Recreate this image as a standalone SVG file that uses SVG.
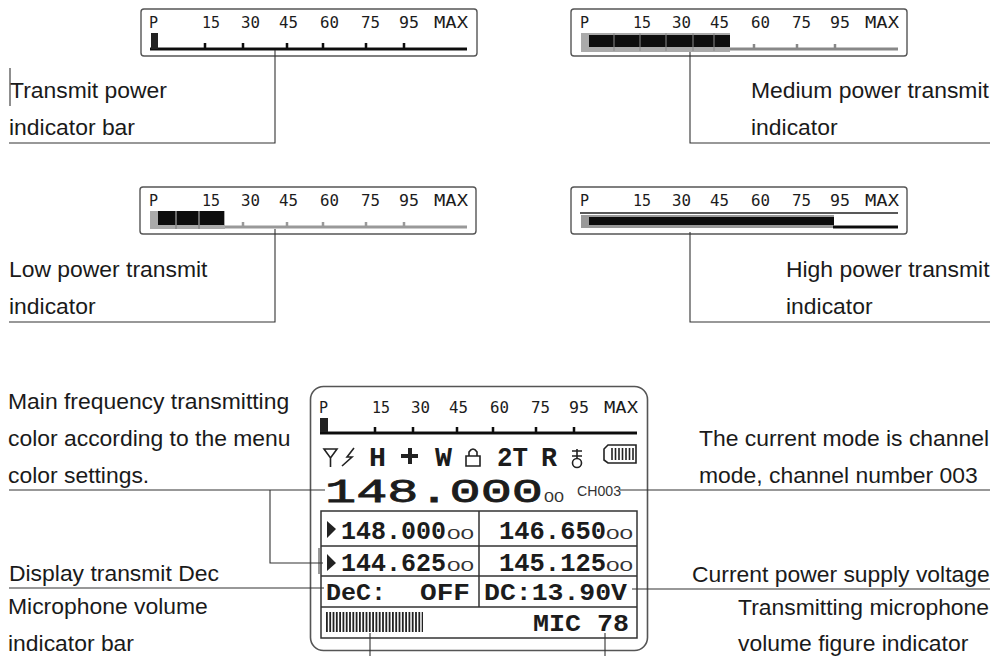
<svg xmlns="http://www.w3.org/2000/svg" xmlns:xlink="http://www.w3.org/1999/xlink" width="994" height="656" viewBox="0 0 994 656">
<style>
.lb{font-family:"Liberation Sans",Arial,sans-serif;font-size:22.9px;fill:#1a1a1a}
.sc{font-family:"DejaVu Sans Mono","Liberation Mono",monospace;font-size:15px;fill:#1c1c1c}
.lcd{font-family:"Liberation Mono","DejaVu Sans Mono",monospace;font-weight:700;fill:#1c1c1c}
.sm{font-family:"Liberation Sans",Arial,sans-serif;fill:#333}
.box{fill:#fff;stroke:#555;stroke-width:1.4}
.cn{fill:none;stroke:#333;stroke-width:1.1}
.tb{fill:none;stroke:#333;stroke-width:1.5}
.ic{fill:none;stroke:#222;stroke-width:1.6}
</style>
<defs>
<filter id="soft" x="-5%" y="-30%" width="110%" height="160%"><feGaussianBlur stdDeviation="0.6"/></filter>
<g id="scale">
<text class="sc" x="149" y="28">P</text>
<text class="sc" x="202" y="28" textLength="18" lengthAdjust="spacingAndGlyphs">15</text>
<text class="sc" x="241" y="28" textLength="19" lengthAdjust="spacingAndGlyphs">30</text>
<text class="sc" x="279" y="28" textLength="19" lengthAdjust="spacingAndGlyphs">45</text>
<text class="sc" x="320" y="28" textLength="19" lengthAdjust="spacingAndGlyphs">60</text>
<text class="sc" x="361" y="28" textLength="19" lengthAdjust="spacingAndGlyphs">75</text>
<text class="sc" x="399" y="28" textLength="20" lengthAdjust="spacingAndGlyphs">95</text>
<text class="sc" x="434" y="28" textLength="34" lengthAdjust="spacingAndGlyphs">MAX</text>
</g>
<path id="ticks" d="M205 49v-6M243 49v-6M287 49v-6M323 49v-6M366 49v-6M404 49v-6" fill="none" stroke-width="2.5"/>
</defs>

<g id="bar-min">
<rect class="box" x="141" y="9" width="336" height="47" rx="3"/>
<use xlink:href="#scale" href="#scale"/>
<g filter="url(#soft)">
<path d="M150 49H467" stroke="#111" stroke-width="3"/>
<use href="#ticks" stroke="#111"/>
<rect x="151" y="33" width="7" height="16" fill="#222"/>
</g>
</g>
<g id="bar-medium" transform="translate(431 0)">
<rect class="box" x="140" y="9" width="336" height="47" rx="3"/>
<use href="#scale"/>
<g filter="url(#soft)">
<path d="M298 49H467" stroke="#888" stroke-width="3"/>
<path d="M323 49v-5M366 49v-5M404 49v-5" stroke="#888" stroke-width="2.500"/>
<rect x="150" y="33" width="149" height="19" fill="#aaa"/>
<rect x="158" y="35" width="141" height="12" fill="#111"/>
<path d="M183 33v18M209 33v18M235 33v18M262 33v18M283 33v18" stroke="#888" stroke-width="1"/>
</g>
</g>
<g id="bar-low" transform="translate(0 178)">
<rect class="box" x="140" y="9" width="336" height="47" rx="3"/>
<use href="#scale"/>
<g filter="url(#soft)">
<path d="M225 49H467" stroke="#999" stroke-width="3"/>
<path d="M243 49v-5M287 49v-5M323 49v-5M366 49v-5M404 49v-5" stroke="#999" stroke-width="2.500"/>
<rect x="150" y="33" width="75" height="18" fill="#aaa"/>
<rect x="158" y="33" width="66" height="14" fill="#111"/>
<path d="M176 33v18M199 33v18" stroke="#888" stroke-width="1.500"/>
</g>
</g>
<g id="bar-high" transform="translate(431 178)">
<rect class="box" x="140" y="9" width="336" height="47" rx="3"/>
<use href="#scale"/>
<path d="M149 35H467" stroke="#222" stroke-width="1.600"/>
<g filter="url(#soft)">
<rect x="150" y="37" width="253" height="13" fill="#999"/>
<rect x="158" y="39" width="245" height="8" fill="#111"/>
<path d="M402 49H467" stroke="#111" stroke-width="3"/>
</g>
</g>

<g id="device">
<rect x="310.500" y="386.500" width="337" height="264" rx="13" fill="#fff" stroke="#555" stroke-width="1.600"/>
<g transform="translate(170 385)"><use href="#scale"/></g>
<g transform="translate(170 384)" filter="url(#soft)">
<path d="M150 49H467" stroke="#111" stroke-width="3"/>
<use href="#ticks" stroke="#111"/>
<rect x="150" y="34" width="8" height="14" fill="#222"/>
</g>
<g id="status-icons">
<path class="ic" d="M324 449H337L330.500 458ZM330.500 458V467"/>
<path class="ic" d="M354 448L347 457H352L342 466"/>
<text class="lcd" x="369" y="466" font-size="27" textLength="17" lengthAdjust="spacingAndGlyphs">H</text>
<path d="M410 448V464M401 456H418" stroke="#222" stroke-width="4" fill="none"/>
<text class="lcd" x="435" y="466" font-size="27" textLength="17" lengthAdjust="spacingAndGlyphs">W</text>
<path class="ic" d="M466 456H480V466H466ZM469 456V452Q473 446 477 452V456"/>
<text class="lcd" x="497" y="466" font-size="27" textLength="31" lengthAdjust="spacingAndGlyphs">2T</text>
<text class="lcd" x="541" y="466" font-size="27" textLength="16" lengthAdjust="spacingAndGlyphs">R</text>
<path class="ic" d="M577 449V459M572 451H582M572 456H582"/><circle class="ic" cx="577" cy="463" r="4.500"/>
<path class="ic" d="M608 445H636V463H608L604 460V449Z"/>
<path d="M612 448v12M615.500 448v12M619 448v12M622.500 448v12M626 448v12M629.500 448v12M633 448v12" stroke="#222" stroke-width="1.600"/>
</g>
<text class="lcd" x="325" y="502" font-size="34" textLength="218" lengthAdjust="spacingAndGlyphs" style="font-weight:400;stroke:#1c1c1c;stroke-width:.8">148.000</text>
<text class="sm" x="544" y="502" font-size="15" textLength="20" lengthAdjust="spacingAndGlyphs">00</text>
<text class="sm" x="577" y="496" font-size="14" textLength="44" lengthAdjust="spacingAndGlyphs">CH003</text>
<g id="table">
<rect class="tb" x="321" y="511" width="316" height="127"/>
<path class="tb" d="M321 546H637M321 576H637M321 607H637M479 511V607"/>
<path d="M327 521L336 529L327 538ZM327 554L336 563L327 571Z" fill="#222"/>
<path d="M319 548V574" stroke="#333" stroke-width="1"/>
<text class="lcd" x="341" y="539" font-size="25" textLength="105" lengthAdjust="spacingAndGlyphs">148.000</text>
<text class="sm" x="447" y="539" font-size="15" textLength="27" lengthAdjust="spacingAndGlyphs">00</text>
<text class="lcd" x="499" y="539" font-size="25" textLength="107" lengthAdjust="spacingAndGlyphs">146.650</text>
<text class="sm" x="606" y="539" font-size="15" textLength="27" lengthAdjust="spacingAndGlyphs">00</text>
<text class="lcd" x="341" y="571" font-size="25" textLength="105" lengthAdjust="spacingAndGlyphs">144.625</text>
<text class="sm" x="447" y="571" font-size="15" textLength="27" lengthAdjust="spacingAndGlyphs">00</text>
<text class="lcd" x="499" y="571" font-size="25" textLength="107" lengthAdjust="spacingAndGlyphs">145.125</text>
<text class="sm" x="606" y="571" font-size="15" textLength="27" lengthAdjust="spacingAndGlyphs">00</text>
<text class="lcd" x="326" y="600" font-size="24" textLength="60" lengthAdjust="spacingAndGlyphs">DeC:</text>
<text class="lcd" x="420" y="600" font-size="24" textLength="50" lengthAdjust="spacingAndGlyphs">OFF</text>
<text class="lcd" x="484" y="600" font-size="24" textLength="143" lengthAdjust="spacingAndGlyphs">DC:13.90V</text>
<path d="M326 622H423" stroke="#222" stroke-width="20" stroke-dasharray="1.800 1.500"/>
<text class="lcd" x="533" y="631" font-size="24" textLength="96" lengthAdjust="spacingAndGlyphs">MIC 78</text>
</g>
</g>

<g id="connectors">
<path class="cn" d="M275 50V143H9"/>
<path class="cn" d="M690 52V143H990"/>
<path class="cn" d="M275 229V322H9"/>
<path class="cn" d="M690 232V322H990"/>
<path class="cn" d="M10 68V106"/>
<path class="cn" d="M9 490H325"/>
<path class="cn" d="M270 490V563H323"/>
<path class="cn" d="M620 490H990"/>
<path class="cn" d="M9 588H324"/>
<path class="cn" d="M632 589H990"/>
<path class="cn" d="M370 633V656"/>
<path class="cn" d="M605 633V656"/>
</g>

<g id="labels">
<text class="lb" x="10" y="98">Transmit power</text>
<text class="lb" x="9" y="135">indicator bar</text>
<text class="lb" x="751" y="98">Medium power transmit</text>
<text class="lb" x="751" y="135">indicator</text>
<text class="lb" x="9" y="277">Low power transmit</text>
<text class="lb" x="9" y="314">indicator</text>
<text class="lb" x="786" y="277">High power transmit</text>
<text class="lb" x="786" y="314">indicator</text>
<text class="lb" x="8" y="409">Main frequency transmitting</text>
<text class="lb" x="8" y="446">color according to the menu</text>
<text class="lb" x="8" y="483">color settings.</text>
<text class="lb" x="699" y="446">The current mode is channel</text>
<text class="lb" x="699" y="483">mode, channel number 003</text>
<text class="lb" x="9" y="581">Display transmit Dec</text>
<text class="lb" x="8" y="614">Microphone volume</text>
<text class="lb" x="8" y="651">indicator bar</text>
<text class="lb" x="692" y="582">Current power supply voltage</text>
<text class="lb" x="738" y="615">Transmitting microphone</text>
<text class="lb" x="738" y="651">volume figure indicator</text>
</g>
</svg>
